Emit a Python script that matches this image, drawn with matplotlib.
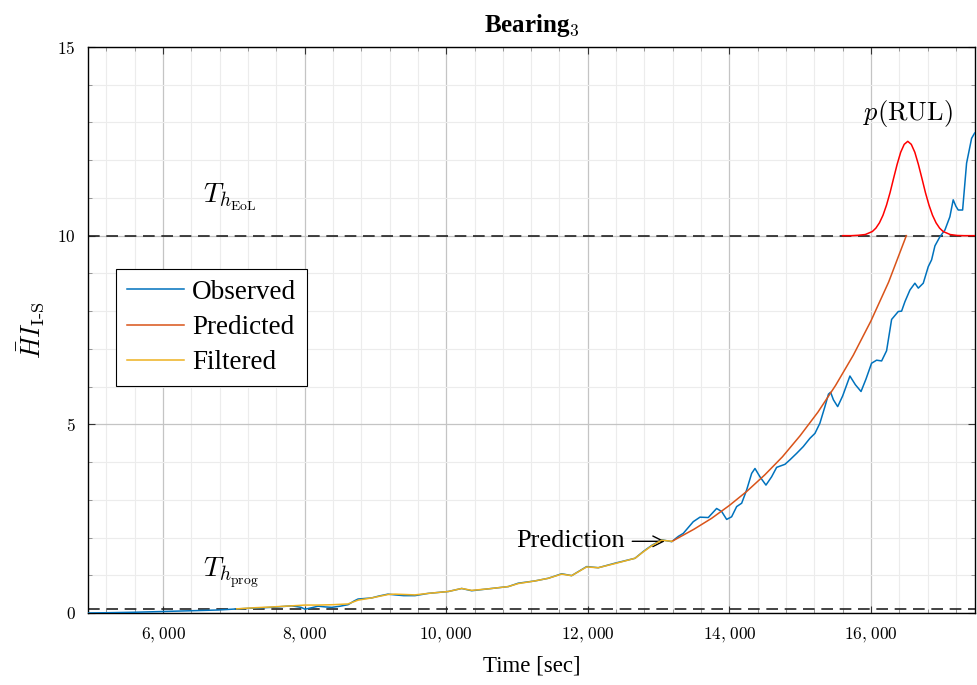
import matplotlib
matplotlib.use("Agg")
import matplotlib.pyplot as plt
from matplotlib.ticker import MultipleLocator, FuncFormatter

plt.rcParams['font.family'] = ['Liberation Serif', 'DejaVu Serif']
plt.rcParams['mathtext.fontset'] = 'cm'

# ---------------- data ----------------
obs_t = [4940, 5300, 5600, 6000, 6400, 6780, 7060, 7300, 7535, 7818, 7950, 8006,
         8100, 8190, 8300, 8383, 8500, 8613, 8700, 8754, 8948, 9050, 9178, 9277,
         9400, 9559, 9747, 10030, 10219, 10360, 10595, 10877, 11018, 11254, 11442,
         11631, 11772, 11984, 12148, 12384, 12667, 12784, 12902, 13044, 13185,
         13279, 13349, 13490, 13585, 13702, 13820, 13891, 13962, 14032, 14103,
         14174, 14244, 14315, 14362, 14432, 14517, 14597, 14668, 14785, 14856,
         14950, 15044, 15138, 15209, 15279, 15350, 15400, 15430, 15470, 15530,
         15600, 15703, 15780, 15860, 15930, 16009, 16080, 16151, 16221, 16292,
         16386, 16433, 16480, 16551, 16621, 16669, 16739, 16810, 16857, 16904,
         16974, 17045, 17115, 17162, 17200, 17233, 17295, 17351, 17422, 17465]
obs_v = [0.00, 0.01, 0.02, 0.04, 0.06, 0.08, 0.11, 0.13, 0.15, 0.19, 0.15, 0.10,
         0.14, 0.18, 0.16, 0.15, 0.18, 0.22, 0.32, 0.37, 0.40, 0.45, 0.50, 0.48,
         0.46, 0.46, 0.52, 0.57, 0.65, 0.59, 0.64, 0.70, 0.79, 0.85, 0.92,
         1.04, 0.99, 1.23, 1.20, 1.32, 1.45, 1.63, 1.79, 1.94, 1.89,
         2.03, 2.11, 2.42, 2.54, 2.53, 2.77, 2.69, 2.48, 2.55, 2.82,
         2.91, 3.26, 3.70, 3.83, 3.61, 3.39, 3.61, 3.86, 3.94, 4.06,
         4.23, 4.41, 4.63, 4.76, 5.03, 5.47, 5.80, 5.85, 5.65, 5.47,
         5.75, 6.28, 6.05, 5.87, 6.20, 6.62, 6.70, 6.68, 6.95, 7.78,
         7.99, 8.00, 8.25, 8.56, 8.74, 8.61, 8.74, 9.18, 9.36, 9.73,
         9.97, 10.15, 10.50, 10.95, 10.78, 10.68, 10.68, 11.92, 12.58, 12.72]

filt_t = [7040, 7300, 7535, 7818, 8006, 8190, 8400, 8613, 8754, 8948, 9178, 9277,
          9559, 9747, 10030, 10219, 10360, 10595, 10877, 11018, 11254, 11442,
          11631, 11772, 11984, 12148, 12384, 12667, 12784, 12902, 13044, 13190]
filt_v = [0.11, 0.14, 0.16, 0.19, 0.21, 0.21, 0.22, 0.24, 0.34, 0.40, 0.49, 0.50,
          0.48, 0.52, 0.57, 0.65, 0.60, 0.64, 0.70, 0.78, 0.85, 0.92,
          1.03, 0.99, 1.22, 1.20, 1.31, 1.45, 1.62, 1.78, 1.93, 1.90]

pred_t = [13190, 13500, 13750, 14000, 14250, 14500, 14750, 15000, 15250, 15500,
          15750, 16000, 16250, 16500]
pred_v = [1.90, 2.22, 2.51, 2.85, 3.23, 3.66, 4.14, 4.70, 5.32, 6.03,
          6.83, 7.74, 8.77, 10.00]

pdf_t = [15600, 15720, 15820, 15920, 16020, 16070, 16120, 16170, 16220, 16270,
         16320, 16370, 16420, 16470, 16520, 16570, 16620, 16670, 16720, 16770,
         16820, 16870, 16920, 16970, 17020, 17120, 17220, 17320, 17470]
pdf_v = [10.00, 10.00, 10.01, 10.03, 10.11, 10.20, 10.34, 10.54, 10.81, 11.14,
         11.52, 11.89, 12.21, 12.42, 12.50, 12.42, 12.21, 11.89, 11.52, 11.14,
         10.81, 10.54, 10.34, 10.20, 10.11, 10.03, 10.005, 10.00, 10.00]

th_eol = 10.0
th_prog = 0.1
pred_start = (13190, 1.90)

x_ticks = [6000, 8000, 10000, 12000, 14000, 16000]
y_ticks = [0, 5, 10, 15]

# ---------------- figure ----------------
fig = plt.figure(figsize=(9.78, 6.85), dpi=100)
ax = fig.add_axes([88 / 978, (685 - 613) / 685, (975 - 88) / 978, (613 - 47) / 685])

ax.set_xlim(4940, 17470)
ax.set_ylim(0, 15)

ax.set_xticks(x_ticks)
ax.set_yticks(y_ticks)
ax.xaxis.set_minor_locator(MultipleLocator(400))
ax.yaxis.set_minor_locator(MultipleLocator(1))
ax.xaxis.set_major_formatter(FuncFormatter(
    lambda v, p: r'$\mathrm{%d}{,}\;\mathrm{%03d}$' % (int(v) // 1000, int(v) % 1000)))
ax.yaxis.set_major_formatter(FuncFormatter(lambda v, p: r'$\mathrm{%d}$' % int(v)))

ax.grid(which='major', color='#c4c4c4', lw=0.9)
ax.grid(which='minor', color='#ececec', lw=0.8)
ax.set_axisbelow(True)
ax.tick_params(which='both', direction='in', top=True, right=True, labelsize=12.5)
ax.tick_params(which='major', length=5, width=0.8, color='#333333', pad=9)
ax.tick_params(which='minor', length=3, width=0.6, color='#888888')
for s in ax.spines.values():
    s.set_linewidth(1.0)

ax.axhline(th_eol, color='#222222', lw=1.2, ls=(0, (7, 4)), zorder=2)
ax.axhline(th_prog, color='#222222', lw=1.2, ls=(0, (7, 4)), zorder=2)

l1, = ax.plot(obs_t, obs_v, color='#0072BD', lw=1.1, label='Observed', zorder=3)
l2, = ax.plot(pred_t, pred_v, color='#D95319', lw=1.1, label='Predicted', zorder=4)
l3, = ax.plot(filt_t, filt_v, color='#EDB120', lw=1.1, label='Filtered', zorder=5)
ax.plot(pdf_t, pdf_v, color='#FF0000', lw=1.1, zorder=4)

ax.text(6570, 11.0, r'$T_{h_{\mathrm{EoL}}}$', fontsize=20, ha='left', va='center')
ax.text(6570, 1.05, r'$T_{h_{\mathrm{prog}}}$', fontsize=20, ha='left', va='center')
ax.text(16520, 13.25, r'$p(\mathrm{RUL})$', fontsize=19, ha='center', va='center')

ax.annotate('Prediction', xy=(13090, pred_start[1]), xytext=(12530, pred_start[1]),
            fontsize=19, ha='right', va='center',
            arrowprops=dict(arrowstyle='->', color='black', lw=1.0,
                            shrinkA=3, shrinkB=0))

leg = ax.legend(handles=[l1, l2, l3], loc='upper left', bbox_to_anchor=(0.0316, 0.6078),
                borderaxespad=0, fontsize=19.5, frameon=True, fancybox=False,
                edgecolor='black', framealpha=1, handlelength=2.1, handletextpad=0.3,
                labelspacing=0.38, borderpad=0.4)
leg.get_frame().set_linewidth(0.8)

ax.set_xlabel('Time [sec]', fontsize=16.5, labelpad=8)
ax.set_ylabel(r'$\bar{H}I_{\mathrm{I}\text{-}\mathrm{S}}$', fontsize=19, labelpad=8)
ax.set_title(r'Bearing$_{\mathbf{3}}$', fontsize=18, fontweight='bold', pad=11)

fig.savefig('out.png', dpi=100)
